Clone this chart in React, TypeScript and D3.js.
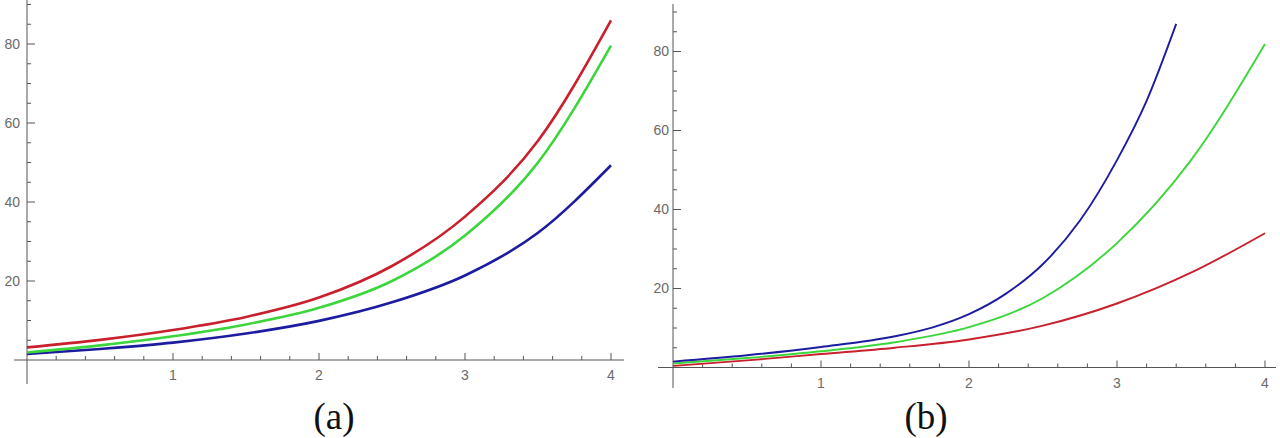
import React from "react";
import * as d3 from "d3";

// ---------- data ----------
const xA = [0, 0.5, 1, 1.5, 2, 2.5, 3, 3.5, 4];
const redA = [3.2, 5.1, 7.6, 10.9, 15.8, 23.8, 36.3, 55.5, 86.0];
const greenA = [1.9, 3.7, 6.0, 9.0, 13.2, 20.0, 31.5, 50.0, 79.6];
const blueA = [1.5, 2.8, 4.4, 6.7, 9.9, 14.6, 21.4, 32.2, 49.3];

const xB = [0, 0.5, 1, 1.5, 2, 2.5, 3, 3.5, 4];
const redB = [0.4, 1.8, 3.4, 5.0, 7.1, 10.6, 16.2, 24.0, 34.0];
const greenB = [1.0, 2.4, 4.1, 6.4, 10.2, 17.6, 31.5, 52.5, 81.9];
const xBlueB = [0, 0.5, 1, 1.5, 1.75, 2, 2.25, 2.5, 2.75, 3, 3.2, 3.4];
const blueB = [1.5, 3.1, 5.2, 7.9, 10.1, 13.5, 18.7, 26.2, 37.2, 52.5, 67.5, 87.0];

const yTicks = [20, 40, 60, 80];
const xTicks = [1, 2, 3, 4];
const captions = ["(a)", "(b)"];

const RED = "#c8202c";
const GREEN = "#3cd63c";
const BLUE = "#1c1ca0";
const AXIS = "#555";
const LABEL = "#6a6a6a";

type Series = { xs: number[]; ys: number[]; color: string };

function Panel({
  x0, x4, y0, yTop, axisTop, axisBottom, xAxisLeft, xAxisRight, series, width, labelGap,
}: {
  x0: number; x4: number; y0: number; yTop: number; axisTop: number; axisBottom: number;
  xAxisLeft: number; xAxisRight: number; series: Series[]; width: number; labelGap: number;
}) {
  const x = d3.scaleLinear().domain([0, 4]).range([x0, x4]);
  const y = d3.scaleLinear().domain([0, 90]).range([y0, yTop]);
  const line = d3
    .line<[number, number]>()
    .x((d) => x(d[0]))
    .y((d) => y(d[1]))
    .curve(d3.curveMonotoneX);
  const minorY = d3.range(5, 95, 5).filter((v) => v % 20 !== 0 && y(v) >= axisTop);
  const minorX = d3.range(0.2, 4.09, 0.2).filter((v) => Math.abs(v - Math.round(v)) > 0.01);
  return (
    <g>
      <line x1={x0} x2={x0} y1={axisTop} y2={axisBottom} stroke={AXIS} strokeWidth={1} />
      <line x1={xAxisLeft} x2={xAxisRight} y1={y0} y2={y0} stroke={AXIS} strokeWidth={1} />
      {yTicks.map((t) => (
        <g key={"y" + t}>
          <line x1={x0} x2={x0 + 8} y1={y(t)} y2={y(t)} stroke={AXIS} strokeWidth={1} />
          <text
            x={x0 - labelGap}
            y={y(t)}
            dy="0.35em"
            textAnchor="end"
            fontFamily="'Liberation Sans', Arial, sans-serif"
            fontSize={14}
            fill={LABEL}
          >
            {t}
          </text>
        </g>
      ))}
      {minorY.map((t) => (
        <line key={"my" + t} x1={x0} x2={x0 + 4} y1={y(t)} y2={y(t)} stroke={AXIS} strokeWidth={1} />
      ))}
      {xTicks.map((t) => (
        <g key={"x" + t}>
          <line x1={x(t)} x2={x(t)} y1={y0} y2={y0 - 7} stroke={AXIS} strokeWidth={1} />
          <text
            x={x(t)}
            y={y0 + 20}
            textAnchor="middle"
            fontFamily="'Liberation Sans', Arial, sans-serif"
            fontSize={14}
            fill={LABEL}
          >
            {t}
          </text>
        </g>
      ))}
      {minorX.map((t) => (
        <line key={"mx" + t} x1={x(t)} x2={x(t)} y1={y0} y2={y0 - 4} stroke={AXIS} strokeWidth={1} />
      ))}
      {series.map((s, i) => (
        <path
          key={i}
          d={line(s.xs.map((v, j) => [v, s.ys[j]] as [number, number])) || ""}
          fill="none"
          stroke={s.color}
          strokeWidth={width}
          strokeLinecap="butt"
        />
      ))}
    </g>
  );
}

export default function App() {
  return (
    <svg
      width={1280}
      height={438}
      style={{ position: "absolute", left: 0, top: 0, background: "#fff" }}
    >
      <rect width={1280} height={438} fill="#fff" />
      <Panel
        x0={27}
        x4={611}
        y0={360}
        yTop={4.5}
        axisTop={0}
        axisBottom={384}
        xAxisLeft={14}
        xAxisRight={624}
        width={2.6}
        labelGap={7}
        series={[
          { xs: xA, ys: blueA, color: BLUE },
          { xs: xA, ys: greenA, color: GREEN },
          { xs: xA, ys: redA, color: RED },
        ]}
      />
      <Panel
        x0={673}
        x4={1265}
        y0={367.5}
        yTop={12}
        axisTop={4}
        axisBottom={388}
        xAxisLeft={658}
        xAxisRight={1276}
        width={1.9}
        labelGap={4}
        series={[
          { xs: xB, ys: redB, color: RED },
          { xs: xB, ys: greenB, color: GREEN },
          { xs: xBlueB, ys: blueB, color: BLUE },
        ]}
      />
      {captions.map((c, i) => (
        <text
          key={c}
          x={i === 0 ? 334 : 926}
          y={429}
          textAnchor="middle"
          fontFamily="'Liberation Serif', 'Times New Roman', serif"
          fontSize={37}
          fill="#111"
        >
          {c}
        </text>
      ))}
    </svg>
  );
}
